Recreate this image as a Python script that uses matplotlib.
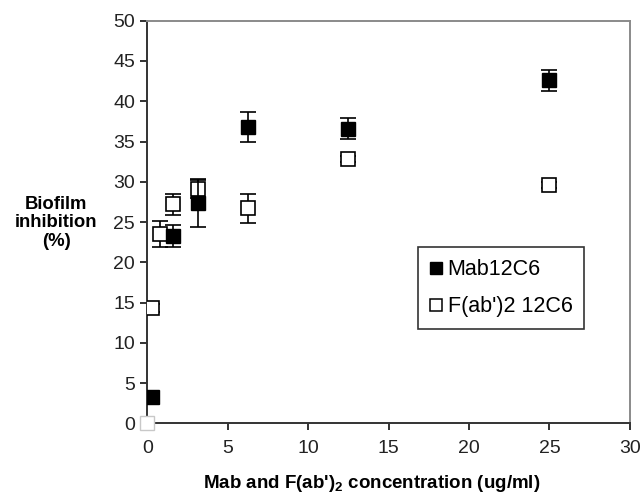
import matplotlib
matplotlib.use("Agg")
import matplotlib.pyplot as plt  # noqa: E402
from matplotlib.lines import Line2D  # noqa: E402

plt.rcParams["font.family"] = ["Liberation Sans", "DejaVu Sans"]
plt.rcParams["mathtext.fontset"] = "custom"
plt.rcParams["mathtext.rm"] = "Liberation Sans"
plt.rcParams["mathtext.bf"] = "Liberation Sans:bold"

# Mab12C6 (filled squares)
mab_x = [0.3, 1.56, 3.125, 6.25, 12.5, 25]
mab_y = [3.3, 23.3, 27.4, 36.8, 36.6, 42.6]
mab_err = [0.0, 1.4, 3.0, 1.9, 1.3, 1.3]

# F(ab')2 12C6 (open squares)
fab_x = [0.3, 0.78, 1.56, 3.125, 6.25, 12.5, 25]
fab_y = [14.3, 23.5, 27.2, 29.1, 26.7, 32.8, 29.6]
fab_err = [0.5, 1.6, 1.3, 1.1, 1.8, 0.4, 0.4]

# zero-dose control point
ctrl_x = [0]
ctrl_y = [0]

fig = plt.figure(figsize=(6.44, 4.93), dpi=100)
ax = fig.add_axes([0.229, 0.141, 0.749, 0.817])

ax.errorbar(fab_x, fab_y, yerr=fab_err, fmt="s", ms=9.5, mfc="white",
            mec="black", mew=1.2, ecolor="black", elinewidth=1.2, capsize=5.5,
            capthick=1.2, zorder=3)
ax.errorbar(mab_x, mab_y, yerr=mab_err, fmt="s", ms=9.5, mfc="black",
            mec="black", ecolor="black", elinewidth=1.2, capsize=5.5,
            capthick=1.2, zorder=4)
ax.plot(ctrl_x, ctrl_y, "s", ms=9.5, mfc="white", mec="#c8c8c8", mew=1.0,
        clip_on=False, zorder=5)

ax.set_xlim(0, 30)
ax.set_ylim(0, 50)
ax.set_xticks(range(0, 31, 5))
ax.set_yticks(range(0, 51, 5))
ax.tick_params(direction="out", length=5, width=1.3, labelsize=14,
               colors="#222222")
ax.tick_params(axis="x", pad=7)
ax.tick_params(axis="y", pad=4)

for s in ("left", "bottom"):
    ax.spines[s].set_color("#333333")
    ax.spines[s].set_linewidth(1.4)
for s in ("top", "right"):
    ax.spines[s].set_color("#8a8a8a")
    ax.spines[s].set_linewidth(1.4)

ax.set_xlabel(r"Mab and F(ab')$_{\mathbf{2}}$ concentration (ug/ml)",
              fontsize=13.5, fontweight="bold")
ax.xaxis.set_label_coords(0.465, -0.122)
fig.text(0.087, 0.548, "Biofilm\ninhibition\n(%)", ha="center", va="center",
         fontsize=13.3, fontweight="bold", linespacing=1.1)

handles = [
    Line2D([], [], ls="none", marker="s", ms=8, mfc="black", mec="black"),
    Line2D([], [], ls="none", marker="s", ms=8, mfc="white", mec="black",
           mew=1.1),
]
leg = ax.legend(handles, ["Mab12C6", "F(ab')2 12C6"], loc="upper left",
                bbox_to_anchor=(0.56, 0.437), fontsize=15.5, frameon=True,
                fancybox=False, edgecolor="black", handlelength=0.6,
                handletextpad=0.25, borderpad=0.55, labelspacing=0.75,
                borderaxespad=0)
leg.get_frame().set_linewidth(1.2)

fig.savefig("out.png", dpi=100)
